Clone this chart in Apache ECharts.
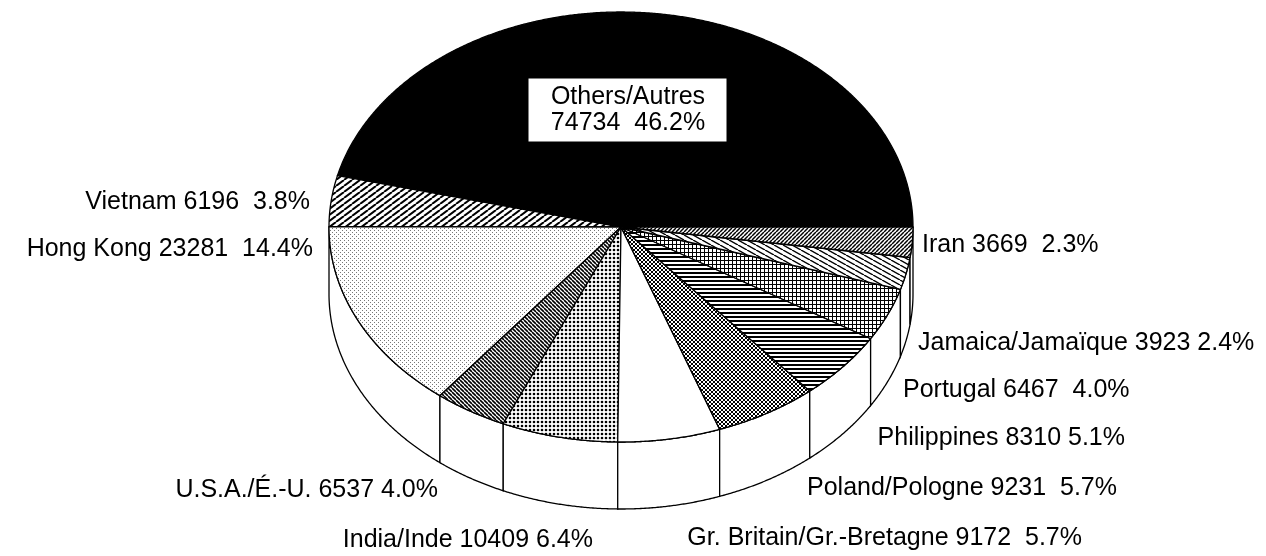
<!DOCTYPE html>
<html><head><meta charset="utf-8">
<script src="https://cdn.jsdelivr.net/npm/echarts@6/dist/echarts.min.js"></script>
<style>html,body{margin:0;padding:0;background:#fff}#c{width:1266px;height:556px}</style>
</head><body><div id="c"></div>
<script>
// ---- data ----
const names = ['Others/Autres','Vietnam','Hong Kong','U.S.A./É.-U.','India/Inde','Gr. Britain/Gr.-Bretagne','Poland/Pologne','Philippines','Portugal','Jamaica/Jamaïque','Iran'];
const counts = [74734, 6196, 23281, 6537, 10409, 9172, 9231, 8310, 6467, 3923, 3669];
const percents = ['46.2','3.8','14.4','4.0','6.4','5.7','5.7','5.1','4.0','2.4','2.3'];
const gaps = ['  ','  ','  ',' ',' ','  ','  ',' ','  ',' ','  '];

// ---- layout ----
const CX = 621, CY = 227, RX = 292, RY = 215, DEPTH = 67;
const labelPos = [[628,110,'center'],[310,202,'right'],[313,249,'right'],[438,490,'right'],[593,540,'right'],
  [1082,538,'right'],[1117,488,'right'],[1125,438,'right'],[903,390,'left'],[918,343,'left'],[922,245,'left']];
const FONT = '25px "Liberation Sans", Arial, sans-serif';

// ---- patterns ----
function tile(w, h, draw){ const c=document.createElement('canvas'); c.width=w; c.height=h; const g=c.getContext('2d'); g.fillStyle='#fff'; g.fillRect(0,0,w,h); g.fillStyle='#000'; g.strokeStyle='#000'; draw(g,w,h); return {image:c, repeat:'repeat'}; }
function rising(w,h,lw){ return tile(w,h,(g)=>{ g.lineWidth=lw; g.beginPath(); for(const dx of [-w,0,w]){ g.moveTo(dx,h); g.lineTo(dx+w,0);} g.stroke(); }); }
function falling(w,h,lw){ return tile(w,h,(g)=>{ g.lineWidth=lw; g.beginPath(); for(const dx of [-w,0,w]){ g.moveTo(dx,0); g.lineTo(dx+w,h);} g.stroke(); }); }
const patterns = [
  '#000',
  rising(8,6,2),
  tile(4,4,(g)=>{ g.fillStyle='#777'; g.fillRect(0,0,1,1); g.fillRect(2,2,1,1); }),
  falling(4,4,1.6),
  tile(4,4,(g)=>{ g.beginPath(); g.arc(2,2,1.3,0,Math.PI*2); g.fill(); }),
  '#fff',
  tile(4,4,(g)=>{ g.lineWidth=1; g.beginPath(); for(const dx of [-4,0,4]){ g.moveTo(dx,0); g.lineTo(dx+4,4); g.moveTo(dx,4); g.lineTo(dx+4,0);} g.stroke(); }),
  tile(4,4,(g)=>{ g.fillRect(0,0,4,2); }),
  tile(4,4,(g)=>{ g.fillRect(0,0,4,1); g.fillRect(0,0,1,4); }),
  falling(9,5,1.4),
  rising(4,4,1.5)
];

const total = counts.reduce((a,b)=>a+b,0);
const cum = []; counts.reduce((a,b,i)=>{ cum[i]=a; return a+b; },0);

function P(t, dy){ return [CX + RX*Math.cos(t), CY - RY*Math.sin(t) + (dy||0)]; }
function arc(s, e, dy){ const n=Math.max(2,Math.ceil((e-s)/0.005)); const pts=[]; for(let k=0;k<=n;k++) pts.push(P(s+(e-s)*k/n, dy)); return pts; }

function renderItem(params, api){
  const i = params.dataIndex;
  const v = api.value(0);
  const a0 = cum[i]/total*Math.PI*2, a1 = (cum[i]+v)/total*Math.PI*2;
  const children = [];
  const s = Math.max(a0, Math.PI), e = Math.min(a1, Math.PI*2);
  if (e > s){
    const pts = arc(s,e,0).concat(arc(s,e,DEPTH).reverse());
    children.push({type:'polygon', shape:{points:pts}, style:{fill:'#fff', stroke:'#000', lineWidth:1.3}});
  }
  const top = [[CX,CY]].concat(arc(a0,a1,0));
  children.push({type:'polygon', shape:{points:top}, style:{fill:patterns[i], stroke:'#000', lineWidth:1.3}});
  const lp = labelPos[i];
  if (i === 0){
    children.push({type:'rect', shape:{x:lp[0]-100, y:lp[1]-32, width:199, height:64}, style:{fill:'#fff', stroke:'#000', lineWidth:1}});
    children.push({type:'text', x:lp[0], y:lp[1], style:{text:names[i]+'\n'+counts[i]+gaps[i]+percents[i]+'%', fill:'#000', font:FONT, align:'center', verticalAlign:'middle', lineHeight:26}});
  } else {
    children.push({type:'text', x:lp[0], y:lp[1], style:{text:names[i]+' '+counts[i]+gaps[i]+percents[i]+'%', fill:'#000', font:FONT, align:lp[2], verticalAlign:'middle'}});
  }
  return {type:'group', children};
}

const chart = echarts.init(document.getElementById('c'));
chart.setOption({
  animation:false,
  backgroundColor:'#fff',
  series:[{type:'custom', coordinateSystem:'none', renderItem, data: counts.map((v,i)=>({value:[v], name:names[i]}))}]
});
</script></body></html>
